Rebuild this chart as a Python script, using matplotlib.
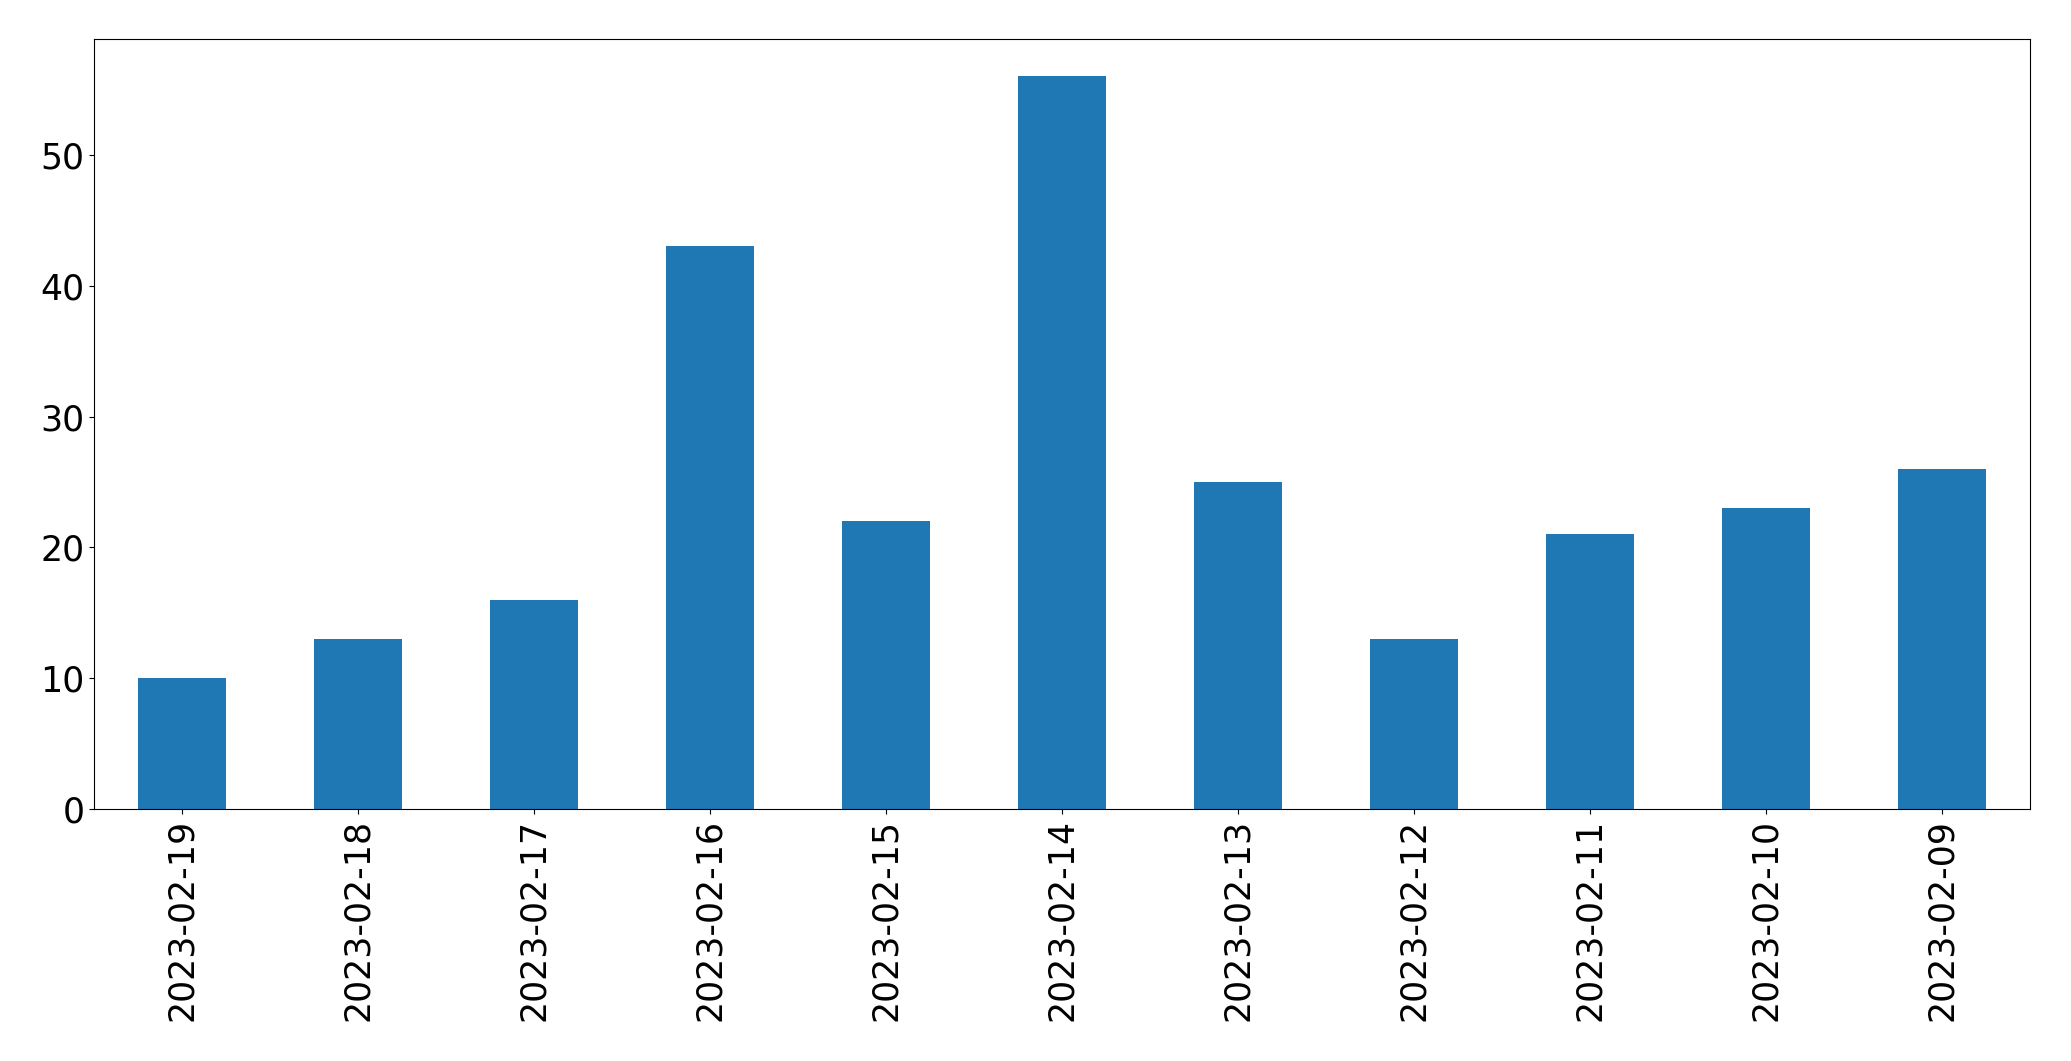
import numpy as np
import matplotlib
matplotlib.use("Agg")
import matplotlib.pyplot as plt

dates = ["2023-02-19", "2023-02-18", "2023-02-17", "2023-02-16", "2023-02-15",
         "2023-02-14", "2023-02-13", "2023-02-12", "2023-02-11", "2023-02-10",
         "2023-02-09"]
counts = [10, 13, 16, 43, 22, 56, 25, 13, 21, 23, 26]

fig = plt.figure(figsize=(20.71, 10.61), dpi=100)
ax = fig.add_axes([0.0455, 0.2372, 0.9345, 0.7256])

x = np.arange(len(dates))
ax.bar(x, counts, width=0.5, color="#1f77b4")
ax.set_xlim(-0.5, len(dates) - 0.5)
ax.set_xticks(x)
ax.set_xticklabels(dates, rotation=90)
ax.tick_params(labelsize=25)

fig.savefig("out.png", dpi=100)
